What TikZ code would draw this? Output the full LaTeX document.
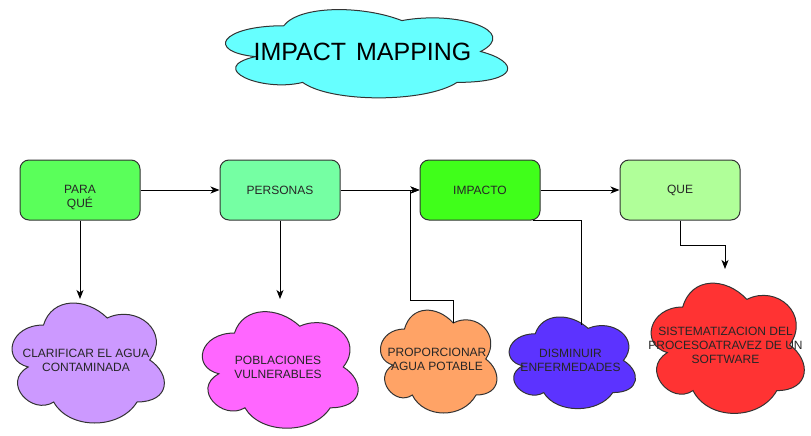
\documentclass[tikz,border=0pt]{standalone}
\usepackage{fontspec}
\setmainfont{Liberation Sans}
\usetikzlibrary{arrows.meta, positioning}
\definecolor{titlecyan}{HTML}{66FFFF}
\definecolor{paragreen}{HTML}{5AFF5A}
\definecolor{personasgreen}{HTML}{75FFA3}
\definecolor{impactogreen}{HTML}{40FF1A}
\definecolor{quegreen}{HTML}{B0FF99}
\definecolor{lavender}{HTML}{CC99FF}
\definecolor{pinkish}{HTML}{FF66FF}
\definecolor{orangish}{HTML}{FFA366}
\definecolor{violet}{HTML}{5C33FF}
\definecolor{redish}{HTML}{FF3333}
\tikzset{
    goal/.style={rectangle, rounded corners=9pt, minimum width=120pt, minimum height=60pt, text centered, align=center, draw=black!80, line width=1pt, font=\fontsize{12}{14}\selectfont, text=black!85},
    cloudshape/.style={draw=black!80, line width=1pt},
    cloudtext/.style={align=center, inner sep=0pt, font=\fontsize{12}{14}\selectfont, text=black!85},
    arrow/.style={line width=1pt, -{Stealth[length=9pt, width=7pt, inset=2.5pt]}},
    link/.style={line width=1pt}
}
% cloud: name, left, top, width, height, fill, text
\newcommand{\impcloud}[7]{%
    \begin{scope}[shift={(#2,#3)}, x=#4pt, y=-#5pt]
        \path[cloudshape, fill=#6] (0.25,0.25)
            .. controls (0.05,0.25) and (0,0.5) .. (0.16,0.55)
            .. controls (0,0.66) and (0.18,0.9) .. (0.31,0.8)
            .. controls (0.4,1) and (0.7,1) .. (0.8,0.8)
            .. controls (1,0.8) and (1,0.6) .. (0.875,0.5)
            .. controls (1,0.3) and (0.8,0.1) .. (0.625,0.2)
            .. controls (0.5,0.05) and (0.3,0.05) .. (0.25,0.25) -- cycle;
        \node[cloudtext] (#1) at (0.5,0.5) {#7};
        \coordinate (#1-dip) at (0.625,0.2);
    \end{scope}}

\begin{document}
\begin{tikzpicture}[x=1pt, y=-1pt, node distance=79pt]
        \useasboundingbox (0,0) rectangle (811,436);

        % Title
        \impcloud{title}{205}{0}{315}{103}{titlecyan}{\fontsize{25}{29}\selectfont\color{black}IMPACT\hspace{10pt}MAPPING}

        % Nodes
        \node (paraque) [goal, fill=paragreen] at (80,190) {\strut\\PARA\\QUÉ};

        \node (personas) [goal, right=of paraque, fill=personasgreen] {PERSONAS};

        \node (impacto) [goal, right=of personas, fill=impactogreen] {IMPACTO};

        \node (que) [goal, right=of impacto, fill=quegreen] {QUE};

        % Clouds
        \impcloud{clarificar}{1}{290}{170}{140}{lavender}{CLARIFICAR EL AGUA\\CONTAMINADA}
        \impcloud{poblaciones}{191}{299}{174}{136}{pinkish}{POBLACIONES\\VULNERABLES}
        \impcloud{proporcionar}{372}{299}{130}{120}{orangish}{PROPORCIONAR\\AGUA POTABLE}
        \impcloud{disminuir}{500}{307}{141}{107}{violet}{DISMINUIR\\ENFERMEDADES}
        \impcloud{sistema}{640}{269}{171}{152}{redish}{SISTEMATIZACION DEL\\PROCESOATRAVEZ DE UN\\SOFTWARE}

        \coordinate (clarificar-in) at (80,299);
        \coordinate (poblaciones-in) at (280,299);
        \coordinate (proporcionar-bend) at (410,300);
        \coordinate (disminuir-in) at (581,325);
        \coordinate (que-bend) at (725,245);
        \coordinate (sistema-in) at (725,269);

        % Arrows
        \draw[arrow] (paraque) -- (personas);
        \draw[arrow] (personas) -- (impacto);
        \draw[arrow] (impacto) -- (que);
        \draw[arrow] (paraque.south) -- (clarificar-in);
        \draw[arrow] (personas.south) -- (poblaciones-in);
        \draw[arrow] (proporcionar-dip) |- (proporcionar-bend) |- (impacto.west);
        \draw[link] ([xshift=-8pt]impacto.south east) -| (disminuir-in);
        \draw[arrow] (que.south) |- (que-bend) -- (sistema-in);

    \end{tikzpicture}
\end{document}
